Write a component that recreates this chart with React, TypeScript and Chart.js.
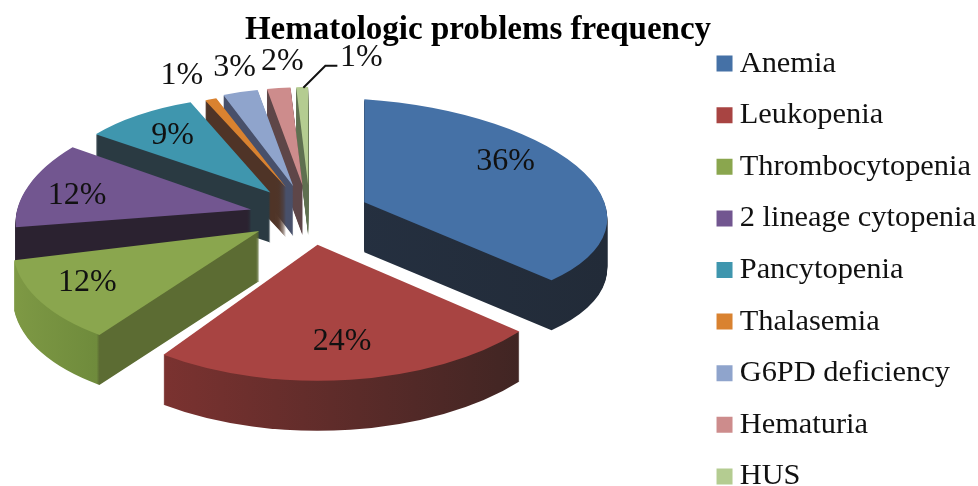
import React, { useEffect, useRef } from "react";
import { Chart, registerables } from "chart.js";

Chart.register(...registerables);

const categories = ["Anemia", "Leukopenia", "Thrombocytopenia", "2 lineage cytopenia", "Pancytopenia", "Thalasemia", "G6PD deficiency", "Hematuria", "HUS"];
const values = [36, 24, 12, 12, 9, 1, 3, 2, 1];
const topColors = ["#4571a6", "#a84442", "#8aa64e", "#725690", "#3f96ae", "#d98230", "#8fa4cc", "#cd8c8c", "#b4cc91"];
const wallStops: [number, string][][] = [
  [[0, "#273447"], [1, "#222b38"]],
  [[0.05, "#883533"], [0.95, "#3b2422"]],
  [[0, "#7f9a45"], [0.2, "#6f8b3c"], [0.206, "#5c6c33"], [1, "#5c6c33"]],
  [[0, "#2b2230"], [1, "#2b2230"]],
  [[0, "#2a3a42"], [1, "#2a3a42"]],
  [[0, "#4f3427"], [1, "#4f3427"]],
  [[0, "#48506a"], [1, "#48506a"]],
  [[0, "#5e4648"], [1, "#5e4648"]],
  [[0, "#5f7050"], [1, "#5f7050"]],
];
const drawOrder = [8, 7, 6, 5, 4, 3, 2, 0, 1];

// 3D projection styling of each exploded slice
const sliceRx = [243, 262, 246, 233, 215, 190, 190, 190, 190];
const sliceRy = [103, 136, 124, 111, 96, 96, 98, 98, 98];
const shearX = [0, 0, -19, -34, -13, 0, 0, 0, 0];
const shearY = [16, 0, -6, 3, 8, 0, 0, 0, 0];
const labelFactor = [0.62, 0.69, 0.78, 0.795, 0.757, 1.25, 1.22, 1.27, 1.3];
const labelNudge = [[5, -13], [2, 4], [-10, 0], [8, 3], [10, -2], [-10, -2], [6, -4], [10, 0], [61, 0]];
const CX = 310, CY = 215, EXPLODE = 60, TILT = 0.5, DEPTH = 50;
const SERIF = '"Liberation Serif"';

const project: any = {
  id: "project",
  beforeDatasetDraw(chart: any, args: any) {
    const ctx = chart.ctx;
    const arcs = args.meta.data;
    drawOrder.forEach((i) => {
      const el = arcs[i];
      const base = el.options;
      const mid = (el.startAngle + el.endAngle) / 2;
      const R = el.outerRadius;
      const paint = (lift: number, fill: any) => {
        ctx.save();
        ctx.translate(CX + EXPLODE * Math.cos(mid), CY + EXPLODE * TILT * Math.sin(mid) + lift);
        ctx.transform(sliceRx[i] / R, shearY[i] / R, shearX[i] / R, sliceRy[i] / R, 0, 0);
        ctx.translate(-el.x, -el.y);
        el.options = { ...base, backgroundColor: fill };
        el.draw(ctx);
        ctx.restore();
      };
      const grad = ctx.createLinearGradient(el.x - R, 0, el.x + R, 0);
      wallStops[i].forEach(([t, c]) => grad.addColorStop(t, c));
      for (let d = DEPTH; d > 0; d--) paint(d, grad);
      paint(0, topColors[i]);
      el.options = base;
    });
    return false;
  },
  afterDatasetsDraw(chart: any) {
    const ctx = chart.ctx;
    const arcs = chart.getDatasetMeta(0).data;
    ctx.save();
    ctx.font = `32px ${SERIF}`;
    ctx.fillStyle = "#111";
    ctx.textAlign = "center";
    ctx.textBaseline = "middle";
    arcs.forEach((el: any, i: number) => {
      const mid = (el.startAngle + el.endAngle) / 2;
      const ax = CX + EXPLODE * Math.cos(mid);
      const ay = CY + EXPLODE * TILT * Math.sin(mid);
      const x = ax + sliceRx[i] * labelFactor[i] * Math.cos(mid) + labelNudge[i][0];
      const y = ay + sliceRy[i] * labelFactor[i] * Math.sin(mid) + labelNudge[i][1];
      ctx.fillText(`${values[i]}%`, x, y);
      if (i === 8) {
        ctx.strokeStyle = "#111";
        ctx.lineWidth = 2;
        ctx.beginPath();
        ctx.moveTo(x - 24, y + 8);
        ctx.lineTo(x - 36, y + 8);
        ctx.lineTo(x - 58, y + 30);
        ctx.stroke();
      }
    });
    ctx.restore();
  },
  afterLayout(chart: any) {
    chart.titleBlock.left -= 11;
    chart.titleBlock.right -= 11;
    chart.legend.left += 8;
    chart.legend.right += 8;
    chart.legend.top += 27;
    chart.legend.bottom += 27;
  },
};

export default function App() {
  const ref = useRef<HTMLCanvasElement>(null);
  useEffect(() => {
    const chart = new Chart(ref.current as HTMLCanvasElement, {
      type: "pie",
      data: {
        labels: categories,
        datasets: [{ data: values, backgroundColor: topColors, borderWidth: 0, clip: false }],
      } as any,
      options: {
        responsive: false,
        animation: false,
        layout: { padding: { top: 0, right: 0, bottom: 0, left: 0 } },
        plugins: {
          tooltip: { enabled: false },
          title: {
            display: true,
            text: "Hematologic problems frequency",
            color: "#000",
            font: { family: SERIF, size: 33, weight: "bold", lineHeight: 1 },
            padding: { top: 14, bottom: -47 },
          },
          legend: {
            display: true,
            position: "right",
            labels: {
              color: "#111",
              font: { family: SERIF, size: 30.4, lineHeight: 1 },
              usePointStyle: true,
              pointStyle: "rect",
              boxWidth: 0.01,
              boxHeight: 16,
              padding: 21.2,
            },
          },
        },
      } as any,
      plugins: [project],
    });
    return () => chart.destroy();
  }, []);
  return (
    <div style={{ position: "fixed", left: 0, top: 0, width: 978, height: 486 }}>
      <canvas ref={ref} width={978} height={486} style={{ display: "block" }} />
    </div>
  );
}
